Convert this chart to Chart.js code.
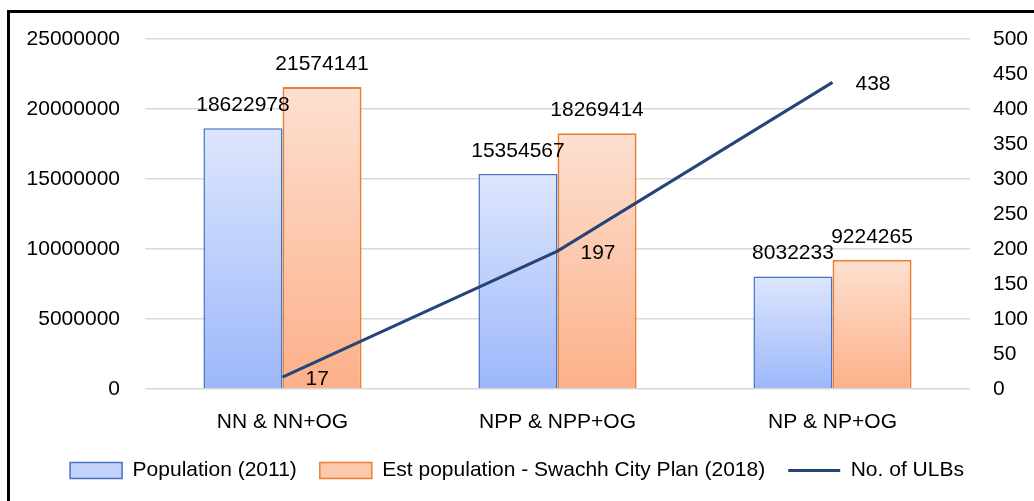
<!DOCTYPE html>
<html>
<head>
<meta charset="utf-8">
<script src="https://cdn.jsdelivr.net/npm/chart.js@4"></script>
<style>
html,body{margin:0;padding:0;background:#fff;overflow:hidden;}
#wrap{position:relative;width:1034px;height:501px;overflow:hidden;}
#frame{position:absolute;left:7px;top:10px;width:1100px;height:600px;border:3px solid #000;}
#chart{position:absolute;left:0;top:0;}
</style>
</head>
<body>
<div id="wrap">
<div id="frame"></div>
<canvas id="chart" width="1034" height="501"></canvas>
</div>
<script>
// =====================
// DATOS
// =====================

let categories = ["NN & NN+OG", "NPP & NPP+OG", "NP & NP+OG"];
let population2011 = [18622978, 15354567, 8032233];
let estPopulation2018 = [21574141, 18269414, 9224265];
let ulbCount = [17, 197, 438];

let leftTicks = [0, 5000000, 10000000, 15000000, 20000000, 25000000];
let rightTicks = [0, 50, 100, 150, 200, 250, 300, 350, 400, 450, 500];

const FONT = '"Liberation Sans", Arial, sans-serif';

// degradado por barra (claro arriba, oscuro abajo)
function barGradient(top, bottom){
return function(c){
let chart = c.chart;
let y = chart.scales.y;
if(!y || c.dataIndex === undefined) return bottom;
let v = c.dataset.data[c.dataIndex];
let y0 = y.getPixelForValue(v);
let y1 = y.getPixelForValue(0);
if(!isFinite(y0) || !isFinite(y1) || y0 === y1) return bottom;
let g = chart.ctx.createLinearGradient(0, y0, 0, y1);
g.addColorStop(0, top);
g.addColorStop(1, bottom);
return g;
};
}

// =====================
// ETIQUETAS DE VALOR
// =====================

const valueLabels = {
id: "valueLabels",
afterDatasetsDraw(chart){
let ctx = chart.ctx;
ctx.save();
ctx.font = "21px " + FONT;
ctx.fillStyle = "#000";
ctx.textBaseline = "middle";
chart.data.datasets.forEach((ds, i)=>{
let meta = chart.getDatasetMeta(i);
meta.data.forEach((el, j)=>{
let v = ds.data[j];
if(ds.type === "line"){
ctx.textAlign = "left";
ctx.fillText(String(v), el.x + 23, el.y + 2);
}else{
ctx.textAlign = "center";
ctx.fillText(String(v), el.x, el.y - 23);
}
});
});
ctx.restore();
}
};

const legendFill = ["#c3d3fc", "#fdc9ad", "#264478"];

new Chart(document.getElementById("chart"), {
type: "bar",
data: {
labels: categories,
datasets: [{
label: "Population (2011)",
data: population2011,
backgroundColor: barGradient("#dde6fd", "#9db7fa"),
borderColor: "#4472c4",
borderWidth: 1.5,
yAxisID: "y",
order: 1
},{
label: "Est population - Swachh City Plan (2018)",
data: estPopulation2018,
backgroundColor: barGradient("#fde0d1", "#fcb089"),
borderColor: "#ed7d31",
borderWidth: 2,
yAxisID: "y",
order: 2
},{
type: "line",
label: "No. of ULBs",
data: ulbCount,
borderColor: "#264478",
backgroundColor: "#264478",
borderWidth: 3,
pointRadius: 0,
tension: 0,
yAxisID: "y2",
order: 0
}]
},
options: {
responsive: false,
animation: false,
datasets: {
bar: {categoryPercentage: 0.575, barPercentage: 1, borderSkipped: "bottom"}
},
layout: {padding: {left: 0, right: 0, top: 39, bottom: 10}},
plugins: {
tooltip: {enabled: false},
legend: {
position: "bottom",
labels: {
usePointStyle: true,
pointStyleWidth: 52,
boxHeight: 16,
padding: 23,
color: "#000",
font: {family: FONT, size: 21},
generateLabels(chart){
return chart.data.datasets.map((ds, i)=>({
text: ds.label,
datasetIndex: i,
fillStyle: legendFill[i],
strokeStyle: ds.borderColor,
lineWidth: ds.type === "line" ? 3 : 1.5,
pointStyle: ds.type === "line" ? "line" : "rect",
hidden: false
}));
}
}
}
},
scales: {
x: {
grid: {display: false, drawTicks: false},
border: {display: false},
ticks: {color: "#000", font: {family: FONT, size: 21}, padding: 21},
afterFit(s){ s.height = 48; }
},
y: {
position: "left",
min: 0,
max: 25000000,
grid: {color: "#d9d9d9", lineWidth: 1.5, drawTicks: false},
border: {display: false},
afterBuildTicks(s){ s.ticks = leftTicks.map(v=>({value: v})); },
ticks: {color: "#000", font: {family: FONT, size: 21}, padding: 25, callback: v=>String(v)},
afterFit(s){ s.width = 145; }
},
y2: {
position: "right",
min: 0,
max: 500,
grid: {display: false, drawTicks: false},
border: {display: false},
afterBuildTicks(s){ s.ticks = rightTicks.map(v=>({value: v})); },
ticks: {color: "#000", font: {family: FONT, size: 21}, padding: 23, callback: v=>String(v)},
afterFit(s){ s.width = 64; }
}
}
},
plugins: [valueLabels]
});
</script>
</body>
</html>
